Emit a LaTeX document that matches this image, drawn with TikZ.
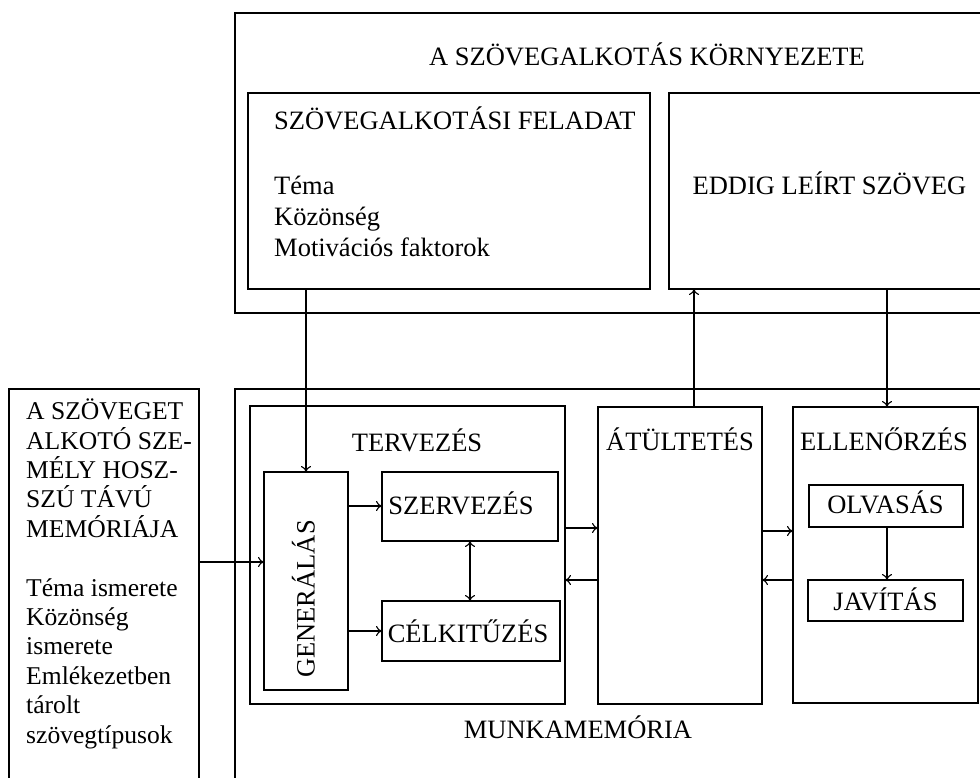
\documentclass[tikz,border=0pt]{standalone}
\usepackage{fontspec}
\setmainfont{Liberation Serif}
\usetikzlibrary{arrows.meta}
\begin{document}
\begin{tikzpicture}[x=1pt,y=-1pt,
  box/.style={draw,line width=1.4pt,inner sep=0pt,outer sep=0pt},
  arr/.style={line width=1.1pt,-{To[length=6pt,width=10pt]}},
  darr/.style={line width=1.1pt,{To[length=6pt,width=10pt]}-{To[length=6pt,width=10pt]}},
  lbl/.style={inner sep=0pt,font=\fontsize{26.5}{29.4}\selectfont}]
\useasboundingbox (0,0) rectangle (980,778);
% boxes (x1,y1) rectangle (x2,y2) via nodes
\newcommand{\bx}[5]{\node[box,minimum width={#4-#2},minimum height={#5-#3}] (#1) at ({(#2+#4)/2},{(#3+#5)/2}) {};}
\bx{env}{235}{13}{1010}{313}
\bx{feladat}{248}{93}{650}{289}
\bx{eddig}{669}{93}{1010}{289}
\bx{mem}{235}{389}{1010}{820}
\bx{ltm}{9}{389}{199}{820}
\bx{terv}{250}{406}{565}{704}
\bx{gen}{264}{472}{348}{690}
\bx{szerv}{382}{472}{558}{541}
\bx{cel}{382}{601}{560}{661}
\bx{atul}{598}{407}{762}{704}
\bx{ell}{793}{407}{978}{703}
\bx{olv}{809}{485}{963}{527}
\bx{jav}{808}{580}{963}{621}
% labels
\node[lbl,anchor=base] (tenv) at (647,66) {A SZÖVEGALKOTÁS KÖRNYEZETE};
\node[lbl,anchor=base west] (tfel) at (274,130) {SZÖVEGALKOTÁSI FELADAT};
\node[lbl,anchor=base west,align=left,font=\fontsize{26.5}{31}\selectfont] (tfel2) at (274,256) {Téma\\Közönség\\Motivációs faktorok};
\node[lbl,anchor=base] (tedd) at (829.5,195) {EDDIG LEÍRT SZÖVEG};
\node[lbl,anchor=base] (tterv) at (417,451) {TERVEZÉS};
\node[lbl,anchor=base] (tatul) at (680,450) {ÁTÜLTETÉS};
\node[lbl,anchor=base] (tell) at (884,450) {ELLENŐRZÉS};
\node[lbl,anchor=base] (tszerv) at (461,514) {SZERVEZÉS};
\node[lbl,anchor=base] (tcel) at (468,642) {CÉLKITŰZÉS};
\node[lbl,anchor=base] (tolv) at (885.5,513) {OLVASÁS};
\node[lbl,anchor=base] (tjav) at (885.5,610) {JAVÍTÁS};
\node[lbl,rotate=90] (tgen) at (303.5,599) {GENERÁLÁS};
\node[lbl,anchor=base] (tmem) at (578,738) {MUNKAMEMÓRIA};
\node[lbl,anchor=base west,align=left,font=\fontsize{25.6}{29.4}\selectfont] (tltm) at (26,743) {A SZÖVEGET\\ALKOTÓ SZE-\\MÉLY HOSZ-\\SZÚ TÁVÚ\\MEMÓRIÁJA\\[29.4pt]Téma ismerete\\Közönség\\ismerete\\Emlékezetben\\tárolt\\szövegtípusok};
% connectors
\draw[arr] (feladat.south -| gen.north) -- (gen.north);
\draw[arr] (atul.north -| 694,0) -- (eddig.south -| 694,0);
\draw[arr] (eddig.south -| 887,0) -- (ell.north -| 887,0);
\draw[arr] (ltm.east |- 0,562) -- (gen.west |- 0,562);
\draw[arr] (gen.east |- 0,506) -- (szerv.west |- 0,506);
\draw[arr] (gen.east |- 0,631) -- (cel.west |- 0,631);
\draw[darr] (szerv.south -| 470,0) -- (cel.north -| 470,0);
\draw[arr] (terv.east |- 0,528) -- (atul.west |- 0,528);
\draw[arr] (atul.west |- 0,580) -- (terv.east |- 0,580);
\draw[arr] (atul.east |- 0,531) -- (ell.west |- 0,531);
\draw[arr] (ell.west |- 0,580) -- (atul.east |- 0,580);
\draw[arr] (olv.south -| 887,0) -- (jav.north -| 887,0);
\end{tikzpicture}
\end{document}
